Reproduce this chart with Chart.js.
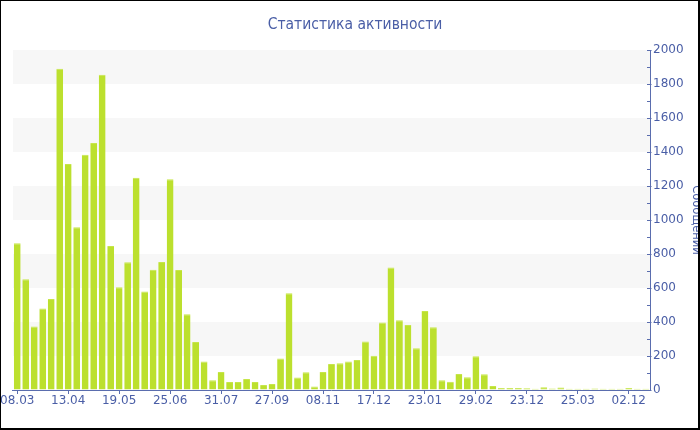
<!DOCTYPE html>
<html>
<head>
<meta charset="utf-8">
<script src="https://cdn.jsdelivr.net/npm/chart.js@4/dist/chart.umd.min.js"></script>
<style>
  html, body { margin: 0; padding: 0; background: #fff; }
  #wrap { position: relative; width: 700px; height: 430px; overflow: hidden; }
  #c { position: absolute; left: 0; top: 0; }
  #frame { position: absolute; left: 0; top: 0; width: 700px; height: 430px; box-sizing: border-box;
           border-style: solid; border-color: #000; border-width: 1px 2px 2px 1px; pointer-events: none; }
</style>
</head>
<body>
<div id="wrap">
  <canvas id="c" width="700" height="430"></canvas>
  <div id="frame"></div>
</div>
<script>
// ---- data ----
const chartTitle = 'Статистика активности';
const yTitle = 'Сообщений';
const tickLabels = ['08.03', '13.04', '19.05', '25.06', '31.07', '27.09', '08.11',
                    '17.12', '23.01', '29.02', '23.12', '25.03', '02.12'];
const labelEvery = 6;
const messages = [
  863, 651, 373, 480, 535, 1890, 1329, 957, 1384, 1453,
  1855, 847, 604, 751, 1249, 580, 708, 753, 1239, 706,
  445, 282, 167, 57, 106, 47, 47, 65, 47, 29,
  35, 186, 569, 73, 104, 20, 106, 153, 157, 167,
  176, 286, 202, 397, 720, 410, 382, 245, 465, 369,
  57, 49, 94, 75, 198, 92, 24, 12, 12, 12,
  10, 8, 16, 9, 14, 8, 8, 8, 9, 8,
  8, 8, 12, 8, 8
];
const yTicks = { min: 0, max: 2000, minor: 100, major: 200 };
const bandRanges = [[200, 400], [600, 800], [1000, 1200], [1400, 1600], [1800, 2000]];

const categories = messages.map((_, i) => (i % labelEvery === 0 ? (tickLabels[i / labelEvery] || '') : ''));

// ---- styles ----
const textColor = '#4a5ea6';
const axisColor = '#5a6dae';
const barColor = '#bce02e';
const barEdge = '#c6e64a';
const bandColor = '#f7f7f7';

Chart.defaults.font.family = "'DejaVu Sans', Verdana, sans-serif";
Chart.defaults.font.size = 12;
Chart.defaults.color = textColor;

const bandsPlugin = {
  id: 'bands',
  beforeDatasetsDraw(chart) {
    const { ctx, chartArea, scales } = chart;
    const y = scales.y;
    ctx.save();
    ctx.fillStyle = bandColor;
    bandRanges.forEach(([a, b]) => {
      const y1 = y.getPixelForValue(b), y2 = y.getPixelForValue(a);
      ctx.fillRect(chartArea.left, y1, chartArea.right - chartArea.left, y2 - y1);
    });
    ctx.restore();
  }
};

const yTickMarks = {
  id: 'yTickMarks',
  afterDraw(chart) {
    const { ctx, scales } = chart;
    const y = scales.y;
    ctx.save();
    ctx.strokeStyle = axisColor;
    ctx.lineWidth = 1;
    for (let v = yTicks.min; v <= yTicks.max; v += yTicks.minor) {
      const py = Math.round(y.getPixelForValue(v)) + 0.5;
      const major = v % yTicks.major === 0;
      ctx.beginPath();
      ctx.moveTo(y.left - 3, py);
      ctx.lineTo(y.left + (major ? 1.5 : 0), py);
      ctx.stroke();
    }
    ctx.restore();
  }
};

new Chart(document.getElementById('c'), {
  type: 'bar',
  data: {
    labels: categories,
    datasets: [{
      data: messages,
      backgroundColor: barColor,
      borderColor: barEdge,
      borderWidth: { top: 1, left: 0, right: 0, bottom: 0 },
      borderSkipped: 'bottom',
      barPercentage: 0.8,
      categoryPercentage: 1.0
    }]
  },
  options: {
    responsive: false,
    animation: false,
    layout: { autoPadding: false, padding: { left: 10, right: 0, top: 0, bottom: 0 } },
    plugins: {
      legend: { display: false },
      tooltip: { enabled: false },
      title: {
        display: true,
        text: chartTitle,
        color: textColor,
        font: { family: "'DejaVu Sans Condensed', 'DejaVu Sans', sans-serif", size: 15.5, weight: 'normal' },
        padding: { top: 16, bottom: 15.4 }
      }
    },
    scales: {
      x: {
        offset: true,
        grid: {
          display: true,
          offset: false,
          drawOnChartArea: false,
          drawTicks: true,
          tickLength: 4,
          tickColor: (ctx) => (categories[ctx.index] ? axisColor : 'rgba(0,0,0,0)')
        },
        border: { display: true, color: axisColor, width: 1 },
        ticks: {
          autoSkip: false,
          maxRotation: 0,
          minRotation: 0,
          padding: 0,
          color: textColor,
          callback: (v, i) => categories[i]
        },
        afterFit: (s) => { s.height = 40; }
      },
      y: {
        position: 'right',
        min: yTicks.min,
        max: yTicks.max,
        grid: { display: true, drawOnChartArea: false, drawTicks: false },
        border: { display: true, color: axisColor, width: 1 },
        ticks: {
          stepSize: yTicks.minor,
          padding: 3,
          color: textColor,
          autoSkip: false,
          callback: (v) => (v % yTicks.major === 0 ? String(v) : '')
        },
        title: {
          display: true,
          text: yTitle,
          color: textColor,
          font: { size: 11.5 },
          padding: { top: -3.2, bottom: 0 }
        },
        afterFit: (s) => { s.width = 50; }
      }
    }
  },
  plugins: [bandsPlugin, yTickMarks]
});
</script>
</body>
</html>
